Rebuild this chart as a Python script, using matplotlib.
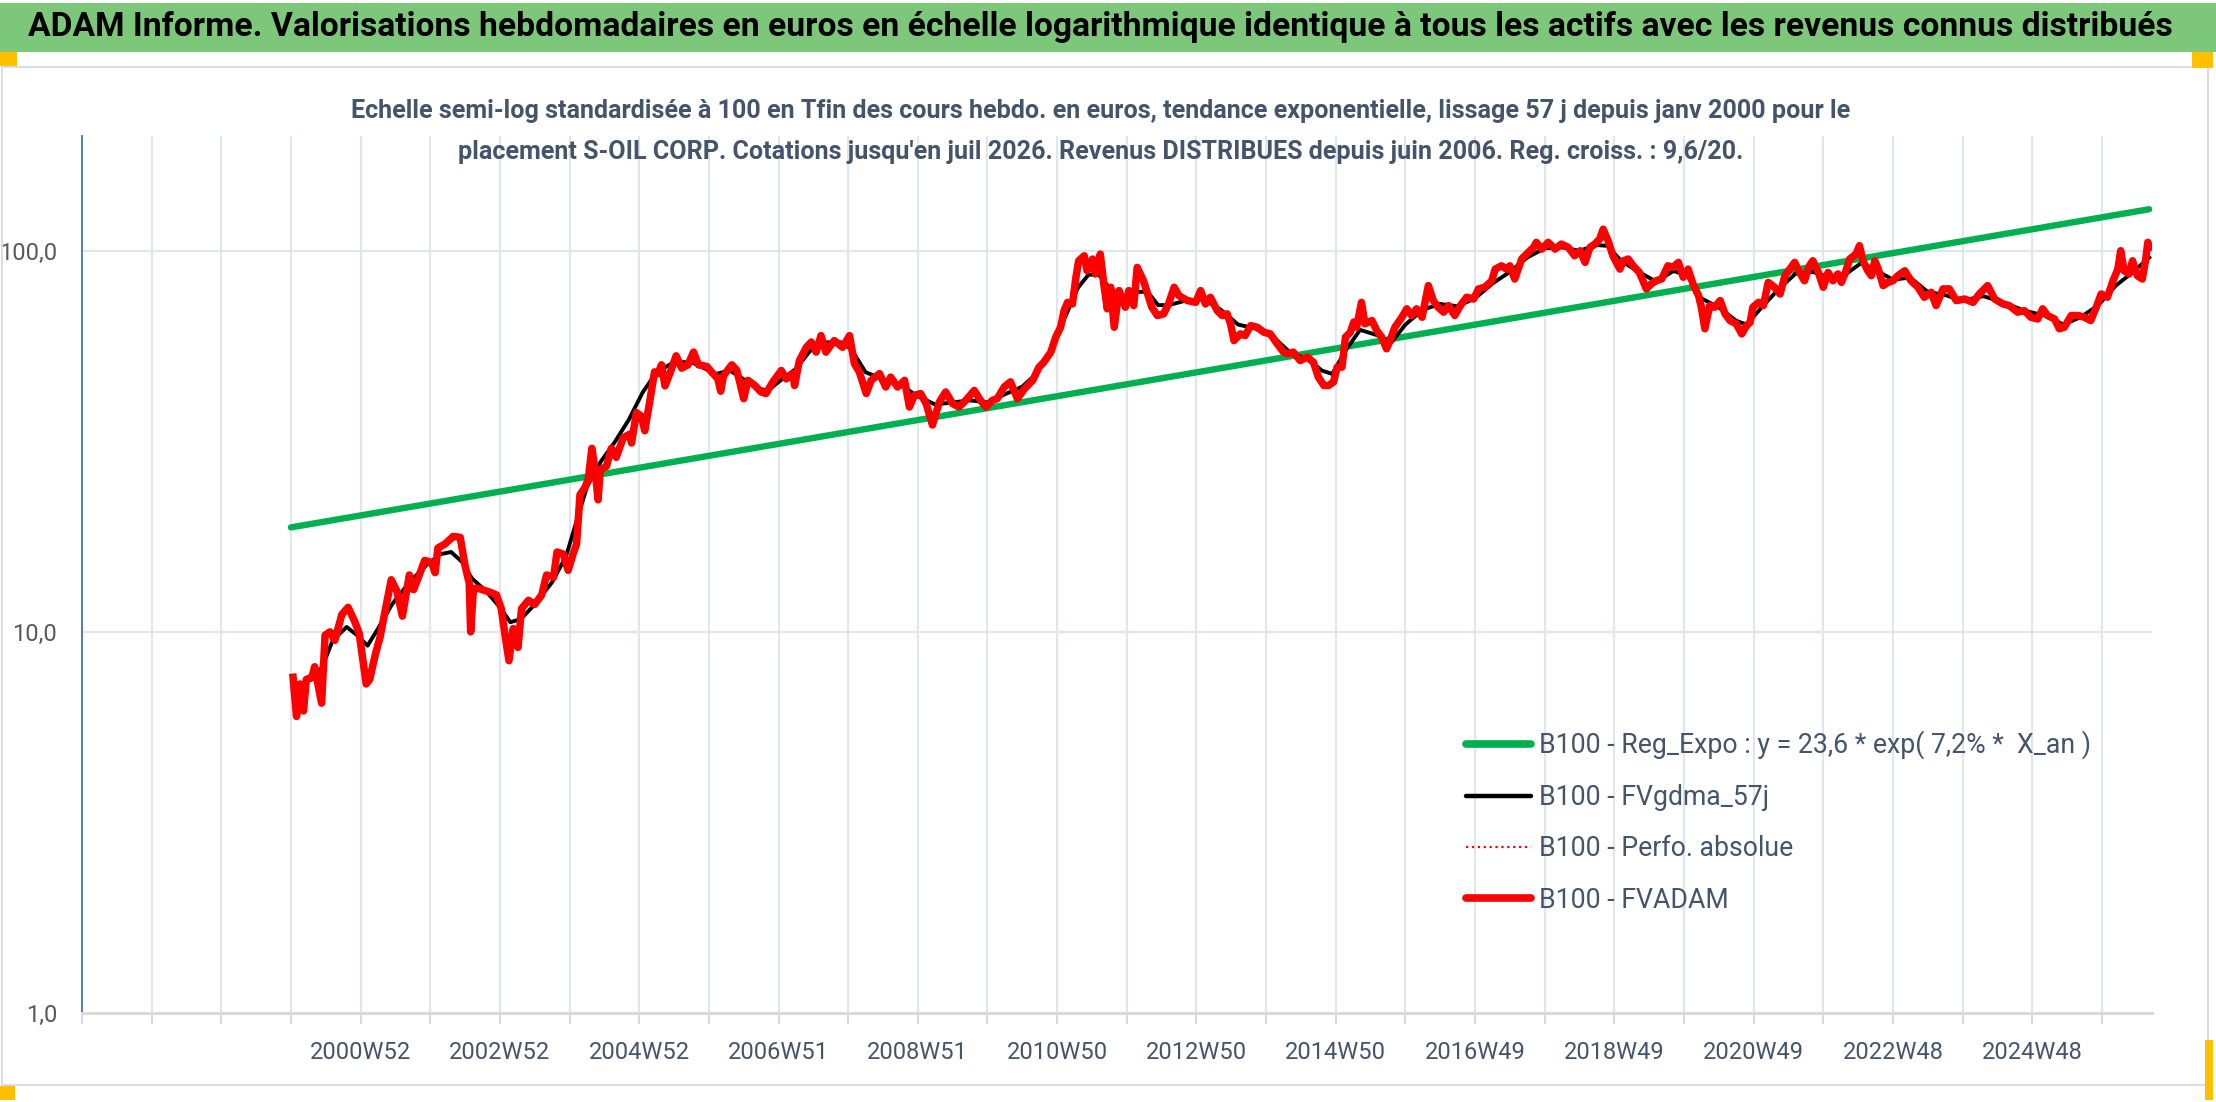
import matplotlib.pyplot as plt
from matplotlib.patches import Rectangle
from matplotlib.lines import Line2D

FONT = ['Liberation Sans Narrow', 'Roboto', 'DejaVu Sans']
plt.rcParams['font.family'] = FONT

# x unit = one 52-week step of the category axis (0 = axis start)
fv_x = [3.03, 3.08, 3.13, 3.18, 3.22, 3.30, 3.34, 3.44, 3.49, 3.56, 3.63, 3.73, 3.82, 3.92, 3.98,
        4.08, 4.13, 4.21, 4.28, 4.35, 4.44, 4.52, 4.60, 4.70, 4.76, 4.83, 4.92, 5.02, 5.07, 5.11,
        5.21, 5.33, 5.43, 5.50, 5.56, 5.58, 5.62, 5.69, 5.86, 5.95, 6.02, 6.07, 6.13, 6.19, 6.26,
        6.31, 6.41, 6.50, 6.60, 6.67, 6.77, 6.82, 6.91, 6.98, 7.05, 7.10, 7.15, 7.22, 7.27, 7.32,
        7.36, 7.41, 7.44, 7.53, 7.60, 7.67, 7.77, 7.86, 7.89, 7.96, 8.03, 8.08, 8.15, 8.22, 8.27,
        8.32, 8.37, 8.44, 8.53, 8.61, 8.70, 8.78, 8.85, 8.97, 9.06, 9.13, 9.17, 9.21, 9.33, 9.40,
        9.45, 9.50,
        9.56, 9.66, 9.75, 9.82, 9.92, 10.04, 10.11, 10.21, 10.23, 10.30, 10.40, 10.47, 10.54, 10.61,
        10.68, 10.80, 10.92, 11.02, 11.09, 11.16, 11.26, 11.33, 11.45, 11.54, 11.61, 11.71, 11.81,
        11.88, 11.95, 12.04, 12.12, 12.21, 12.31, 12.40, 12.50, 12.59, 12.69, 12.81, 12.90, 12.98,
        13.07, 13.14, 13.24, 13.33, 13.43, 13.53, 13.65, 13.74, 13.81, 13.91, 13.98, 14.05, 14.10,
        14.15, 14.22, 14.27, 14.31, 14.39, 14.43, 14.51, 14.55, 14.62, 14.67, 14.72, 14.77, 14.82,
        14.89, 14.98, 15.03, 15.10, 15.15, 15.24, 15.36, 15.44, 15.53, 15.60, 15.68, 15.75, 15.87,
        15.99, 16.06, 16.13, 16.20,
        16.30, 16.37, 16.44, 16.49, 16.54, 16.63, 16.70, 16.78, 16.87, 16.97, 17.06, 17.16, 17.25,
        17.32, 17.39, 17.49, 17.59, 17.68, 17.75, 17.83, 17.90, 17.97, 18.02, 18.09, 18.14, 18.21,
        18.26, 18.30, 18.37, 18.42, 18.52, 18.59, 18.66, 18.73, 18.78, 18.85, 18.95, 19.02, 19.09,
        19.16, 19.24, 19.33, 19.40, 19.47, 19.55, 19.62, 19.71, 19.79, 19.88, 19.98, 20.05, 20.14,
        20.24, 20.29, 20.38, 20.45, 20.50, 20.57, 20.67, 20.74, 20.84, 20.88, 20.96, 21.05, 21.15,
        21.24, 21.34, 21.43, 21.51, 21.58, 21.65, 21.72, 21.79, 21.84, 21.91, 21.98, 22.08, 22.13,
        22.20, 22.27, 22.36, 22.46, 22.53, 22.60, 22.68, 22.77, 22.84, 22.92, 22.99,
        23.06, 23.13, 23.21, 23.25, 23.30, 23.37, 23.44, 23.52, 23.59, 23.66, 23.75, 23.83, 23.90,
        23.95, 23.99, 24.07, 24.14, 24.21, 24.30, 24.38, 24.45, 24.52, 24.59, 24.66, 24.73, 24.80,
        24.85, 24.93, 25.00, 25.07, 25.14, 25.21, 25.26, 25.31, 25.38, 25.47, 25.52, 25.57, 25.64,
        25.69, 25.74, 25.79, 25.86, 25.93, 26.00, 26.07, 26.17, 26.26, 26.36, 26.45, 26.55, 26.62,
        26.72, 26.81, 26.91, 27.03, 27.15, 27.24, 27.36, 27.46, 27.58, 27.67, 27.79, 27.89, 27.98,
        28.08, 28.15, 28.22, 28.32, 28.39, 28.46, 28.56, 28.66, 28.75, 28.84, 28.92, 28.99, 29.08,
        29.16, 29.23, 29.27, 29.32, 29.39, 29.44, 29.51, 29.58, 29.63, 29.66, 29.68]
fv_y = [7.6, 6.0, 7.3, 6.2, 7.5, 7.6, 8.1, 6.5, 9.8, 10.0, 9.5, 11.1, 11.6, 10.6, 9.9,
        7.3, 7.5, 8.7, 9.7, 11.3, 13.7, 12.8, 11.0, 14.1, 12.9, 13.9, 15.4, 15.2, 14.3, 16.6,
        17.0, 17.8, 17.7, 14.9, 13.4, 10.0, 13.0, 13.0, 12.7, 12.5, 11.5, 9.9, 8.4, 10.2, 9.1,
        11.5, 12.1, 11.8, 12.5, 14.1, 13.9, 16.2, 16.0, 14.5, 16.0, 17.0, 22.9, 23.9, 25.2, 30.3,
        27.2, 22.2, 26.6, 27.2, 30.3, 28.7, 32.3, 33.0, 31.3, 37.6, 36.8, 33.7, 40.1, 48.1, 47.6,
        50.2, 44.2, 47.6, 53.0, 49.2, 50.2, 54.2, 50.2, 49.7, 47.6, 46.1, 42.8, 47.0, 50.2, 48.6,
        44.7, 40.9,
        45.7, 44.3, 42.6, 42.2, 45.3, 48.5, 46.1, 47.6, 44.3, 51.5, 55.8, 57.6, 54.2, 59.9,
        54.2, 58.1, 55.8, 59.9, 50.5, 48.1, 42.2, 45.7, 47.6, 43.9, 46.6, 43.9, 45.7,
        38.9, 41.7, 42.2, 39.7, 34.9, 40.1, 42.6, 39.7, 38.9, 40.5, 43.0, 40.5, 38.9,
        40.5, 40.9, 43.9, 45.3, 40.9, 43.4, 45.7, 49.5, 51.0, 54.2, 59.3, 63.0, 69.6,
        73.2, 72.5, 85.1, 94.1, 97.0, 88.6, 95.1, 86.9, 98.0, 81.8, 70.4, 80.2, 63.0,
        78.6, 71.1, 78.6, 71.8, 90.4, 83.4, 71.1, 67.6, 68.3, 72.5, 80.2, 76.2, 74.0,
        73.2, 78.6, 72.5, 75.5,
        69.6, 67.6, 68.3, 64.3, 58.1, 60.5, 59.9, 63.6, 63.0, 61.1, 60.5, 57.0, 54.2,
        53.6, 54.2, 51.5, 52.6, 51.0, 46.6, 44.3, 44.3, 45.3, 49.5, 49.5, 59.3, 61.1,
        65.0, 63.0, 73.2, 64.3, 65.6, 61.7, 59.3, 55.3, 58.1, 63.0, 66.9, 70.4, 67.6,
        70.4, 66.9, 81.0, 74.0, 71.1, 69.0, 71.8, 67.6, 71.8, 75.5, 74.7, 79.4, 80.2,
        83.4, 89.5, 91.3, 89.5, 91.3, 84.3, 95.1, 98.0, 102.0, 105.2, 101.0, 105.2, 101.0,
        104.1, 102.0, 97.0, 100.0, 93.2, 102.0, 104.1, 107.3, 113.9, 106.2, 97.0, 89.5, 94.1,
        95.1, 91.3, 87.7, 79.4, 81.8, 83.4, 84.3, 91.3, 90.4, 93.2, 85.2,
        89.5, 81.8, 76.2, 71.1, 62.4, 71.8, 71.1, 74.0, 68.3, 65.6, 64.3, 60.5, 63.6,
        64.9, 71.1, 73.2, 71.8, 82.6, 80.2, 77.0, 86.0, 89.5, 93.2, 87.7, 83.4, 91.3,
        94.1, 87.7, 80.2, 87.7, 83.4, 86.9, 82.6, 86.9, 95.1, 98.0, 103.1, 94.1, 88.6,
        86.0, 94.1, 89.5, 81.0, 82.6, 83.4, 86.0, 88.6, 83.4, 80.2, 75.5, 77.8, 71.8,
        79.4, 79.4, 74.0, 74.7, 73.2, 77.0, 81.0, 74.7, 72.5, 71.8, 69.0, 69.6, 66.9,
        66.2, 70.4, 67.6, 66.2, 62.4, 63.0, 67.6, 67.6, 66.9, 65.6, 71.1, 77.0, 75.5,
        83.4, 89.5, 100.0, 88.6, 86.9, 94.1, 86.0, 84.3, 95.1, 105.2, 102.0]

gdma_x = [3.05, 3.3, 3.45, 3.6, 3.8, 3.95, 4.1, 4.25, 4.45, 4.7, 4.95, 5.15, 5.3, 5.45, 5.6,
          5.8, 6.0, 6.15, 6.3, 6.5, 6.75, 6.95, 7.1, 7.25, 7.45, 7.65, 7.85, 8.05, 8.25, 8.5,
          8.75, 8.95, 9.1, 9.3, 9.5, 9.7, 9.85, 10.05, 10.25, 10.45, 10.65, 10.9, 11.05, 11.25,
          11.5, 11.75, 12.0, 12.25, 12.5, 12.75, 13.0, 13.25, 13.5, 13.7, 13.9, 14.1, 14.3,
          14.45, 14.6, 14.75, 14.95, 15.15, 15.3, 15.45, 15.6, 15.85, 16.1, 16.35, 16.6, 16.85,
          17.1, 17.35, 17.6, 17.8, 17.95, 18.15, 18.35, 18.6, 18.8, 19.0, 19.25, 19.5, 19.75,
          20.0, 20.25, 20.5, 20.75, 21.0, 21.25, 21.5, 21.75, 21.9, 22.1, 22.35, 22.6, 22.85,
          23.05, 23.25, 23.5, 23.75, 23.9, 24.1, 24.35, 24.6, 24.85, 25.1, 25.35, 25.55, 25.75,
          26.0, 26.25, 26.5, 26.75, 27.0, 27.3, 27.6, 27.9, 28.2, 28.45, 28.7, 28.95, 29.2,
          29.45, 29.68]
gdma_y = [7.2, 7.5, 8.1, 9.5, 10.3, 9.8, 9.2, 10.2, 11.8, 13.5, 15.0, 16.0, 16.2, 15.3, 13.8,
          12.8, 11.6, 10.6, 10.8, 11.8, 13.5, 15.8, 19.5, 24.0, 28.0, 31.5, 36.0, 42.5, 48.0, 51.0,
          51.0, 49.0, 47.5, 48.5, 46.0, 43.5, 43.0, 46.0, 49.0, 54.5, 57.5, 57.5, 55.0, 48.0,
          46.0, 44.5, 41.5, 39.5, 40.0, 40.5, 40.0, 42.0, 44.0, 47.5, 54.0, 66.0, 80.0,
          86.5, 86.5, 80.0, 75.0, 78.0, 78.0, 72.0, 72.0, 74.0, 74.5, 70.0, 64.0, 62.5,
          59.5, 54.0, 52.0, 48.5, 47.5, 55.0, 62.0, 60.0, 57.5, 64.0, 70.0, 72.5, 71.5,
          75.0, 82.0, 88.0, 96.0, 101.5, 102.0, 100.0, 103.5, 103.0, 94.0, 88.0, 83.0, 88.5,
          86.0, 75.0, 71.0, 65.5, 64.0, 70.5, 79.0, 87.0, 88.0, 85.0, 87.5, 93.0, 89.0,
          84.0, 85.0, 78.0, 76.5, 74.0, 76.0, 73.0, 69.5, 67.5, 64.0, 67.0, 72.0, 81.0,
          88.0, 96.0]

reg_x = [3.0, 29.68]
reg_y = [18.8, 128.5]

tick_pos = [4, 6, 8, 10, 12, 14, 16, 18, 20, 22, 24, 26, 28]
tick_lab = ['2000W52', '2002W52', '2004W52', '2006W51', '2008W51', '2010W50', '2012W50',
            '2014W50', '2016W49', '2018W49', '2020W49', '2022W48', '2024W48']

title = ("ADAM Informe. Valorisations hebdomadaires en euros en échelle logarithmique "
         "identique à tous les actifs avec les revenus connus distribués")
sub1 = ("Echelle semi-log standardisée à 100 en Tfin des cours hebdo. en euros, tendance "
        "exponentielle, lissage 57 j depuis janv 2000 pour le")
sub2 = ("placement S-OIL CORP. Cotations jusqu'en juil 2026. Revenus DISTRIBUES depuis "
        "juin 2006. Reg. croiss. : 9,6/20.")

W, H = 2216, 1102
fig = plt.figure(figsize=(W / 100, H / 100), dpi=100)

# frame decorations (pixel based)
def px_rect(x0, y0, x1, y1, **kw):
    fig.patches.append(Rectangle((x0 / W, 1 - y1 / H), (x1 - x0) / W, (y1 - y0) / H,
                                 transform=fig.transFigure, **kw))

px_rect(0, 3, W, 52, facecolor='#7DC77B', edgecolor='none')
px_rect(2, 67, 2208, 1085, facecolor='none', edgecolor='#D9DDE3', linewidth=1.5)
px_rect(0, 52, 17, 66, facecolor='#FFC000', edgecolor='none')
px_rect(2192, 52, 2213, 68, facecolor='#FFC000', edgecolor='none')
px_rect(0, 1086, 15, 1100, facecolor='#FFC000', edgecolor='none')
px_rect(2205, 1040, 2213, 1100, facecolor='#FFC000', edgecolor='none')

ax = fig.add_axes([82 / W, 1 - 1013 / H, (2152 - 82) / W, (1013 - 136) / H])
ax.set_yscale('log')

ax.plot(reg_x, reg_y, color='#00B050', linewidth=4.6, solid_capstyle='round', zorder=3)
ax.plot(gdma_x, gdma_y, color='black', linewidth=2.8, zorder=4)
ax.plot(fv_x, fv_y, color='#FF0000', linewidth=1.2, linestyle=':', zorder=4)
ax.plot(fv_x, fv_y, color='#FF0000', linewidth=5.4, zorder=5, solid_joinstyle='round')

ax.set_xlim(0, 29.72)
ax.set_ylim(1, 200)

ax.set_yticks([1, 10, 100])
ax.set_yticklabels(['1,0', '10,0', '100,0'])
ax.yaxis.set_minor_locator(plt.NullLocator())
ax.tick_params(axis='y', length=0, pad=18, labelsize=17, labelcolor='#595959')

ax.set_xticks(range(0, 30))
ax.set_xticklabels([''] * 30)
for p, lab in zip(tick_pos, tick_lab):
    ax.text(p, -0.045, lab, transform=ax.get_xaxis_transform(), ha='center', va='center',
            fontsize=17, color='#44546A')
ax.tick_params(axis='x', length=8, width=1.5, color='#D9D9D9', direction='out')

for k in range(1, 30):
    ax.axvline(k, color='#E1E5EC', linewidth=1.5, zorder=1)
for v in [10, 100]:
    ax.axhline(v, color='#E1E5EC', linewidth=1.5, zorder=1)

for s in ['top', 'right']:
    ax.spines[s].set_visible(False)
ax.spines['left'].set_color('#4472C4')
ax.spines['left'].set_linewidth(1.3)
ax.spines['bottom'].set_color('#D9D9D9')
ax.spines['bottom'].set_linewidth(2.2)

handles = [Line2D([], [], color='#00B050', linewidth=5.5, solid_capstyle='round'),
           Line2D([], [], color='black', linewidth=3.2, solid_capstyle='round'),
           Line2D([], [], color='#FF0000', linewidth=1.6, linestyle=':'),
           Line2D([], [], color='#FF0000', linewidth=5.5, solid_capstyle='round')]
labels = ['B100 - Reg_Expo : y = 23,6 * exp( 7,2% *  X_an )', 'B100 - FVgdma_57j',
          'B100 - Perfo. absolue', 'B100 - FVADAM']

t_title = fig.text(28 / W, 1 - 27 / H, title, ha='left', va='center', fontsize=26,
                   fontweight='bold', color='black')
t_s1 = fig.text(1101 / W, 1 - 111 / H, sub1, ha='center', va='center', fontsize=19,
                fontweight='bold', color='#44546A')
t_s2 = fig.text(1101 / W, 1 - 152 / H, sub2, ha='center', va='center', fontsize=19,
                fontweight='bold', color='#44546A')

# scale the header texts to the widths seen on the reference
fig.canvas.draw()
r = fig.canvas.get_renderer()
w = t_title.get_window_extent(r).width
t_title.set_fontsize(t_title.get_fontsize() * 2148 / w)
w1 = t_s1.get_window_extent(r).width
w2 = t_s2.get_window_extent(r).width
sub_fs = 19 * (1586 + 1209) / (w1 + w2)
t_s1.set_fontsize(sub_fs)
t_s2.set_fontsize(sub_fs)

# legend font sized so that the first label is about 550 px wide
probe = fig.text(0, 0, labels[0], fontsize=18)
leg_fs = 18 * 550 / probe.get_window_extent(r).width
probe.remove()

leg = ax.legend(handles, labels, loc='upper left', bbox_to_anchor=(0.6685, 0.322),
                frameon=False, fontsize=leg_fs, handlelength=65 / (leg_fs * 1.39),
                handletextpad=0.3, labelspacing=0.92, borderpad=0, borderaxespad=0)
for t in leg.get_texts():
    t.set_color('#44546A')

fig.savefig('out.png', dpi=100)
